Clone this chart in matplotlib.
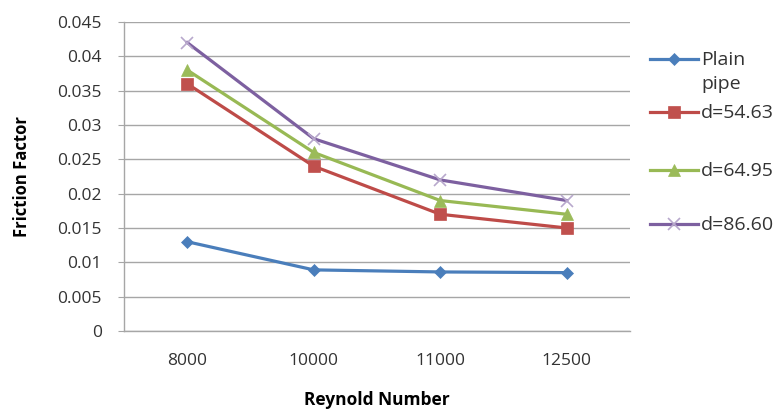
import matplotlib
matplotlib.use("Agg")
import matplotlib.pyplot as plt
from matplotlib.lines import Line2D

categories = ["8000", "10000", "11000", "12500"]
plain_pipe = [0.013, 0.0089, 0.0086, 0.0085]
d_54_63 = [0.036, 0.024, 0.017, 0.015]
d_64_95 = [0.038, 0.026, 0.019, 0.017]
d_86_60 = [0.042, 0.028, 0.022, 0.019]
y_ticks = [0, 0.005, 0.01, 0.015, 0.02, 0.025, 0.03, 0.035, 0.04, 0.045]
y_tick_labels = ["0", "0.005", "0.01", "0.015", "0.02", "0.025", "0.03", "0.035", "0.04", "0.045"]

plt.rcParams['font.family'] = ['Open Sans', 'DejaVu Sans']

fig = plt.figure(figsize=(7.79, 4.12), dpi=100)
ax = fig.add_axes([124/779, 81/412, 506/779, 309/412])

x = list(range(len(categories)))
series = [
    ("Plain\npipe", plain_pipe, "#4A7EBB", "D", 6, "#4A7EBB"),
    ("d=54.63", d_54_63, "#BE4B48", "s", 8, "#C0504D"),
    ("d=64.95", d_64_95, "#98B954", "^", 8.5, "#9BBB59"),
    ("d=86.60", d_86_60, "#7D60A0", "x", 9, "#B8A8CC"),
]
for label, vals, col, mk, ms, mcol in series:
    ax.plot(x, vals, color=col, lw=2.3, marker=mk, markersize=ms,
            markerfacecolor=mcol, markeredgecolor=mcol, markeredgewidth=1.2 if mk == "x" else 0.5,
            zorder=3)

ax.set_xlim(-0.5, len(categories) - 0.5)
ax.set_ylim(0, 0.045)
ax.set_yticks(y_ticks)
ax.set_yticklabels(y_tick_labels)
ax.set_xticks(x)
ax.set_xticklabels(categories)
ax.yaxis.grid(True, color="#A6A6A6", lw=1.0)
ax.set_axisbelow(True)
for s in ["top", "right"]:
    ax.spines[s].set_visible(False)
ax.spines["left"].set_color("#A6A6A6")
ax.spines["bottom"].set_color("#A6A6A6")
ax.spines["left"].set_linewidth(1.0)
ax.spines["bottom"].set_linewidth(1.0)
ax.tick_params(axis="y", length=4, color="#A6A6A6", labelsize=12.5, labelcolor="#333333", pad=12)
ax.tick_params(axis="x", length=0, labelsize=12.5, labelcolor="#333333", pad=16)

ax.set_xlabel("Reynold Number", fontsize=12.5, fontweight="bold", labelpad=16)
ax.set_ylabel("Friction Factor", fontsize=12, fontweight="bold")
ax.yaxis.set_label_coords(-(124 - 31) / 506, 0.5)

# legend, drawn manually
leg_y = [59, 112, 170, 224]
for (label, vals, col, mk, ms, mcol), yy in zip(series, leg_y):
    yf = 1 - yy / 412
    fig.add_artist(Line2D([650/779, 698/779], [yf, yf], transform=fig.transFigure,
                          color=col, lw=2.3))
    fig.add_artist(Line2D([674/779], [yf], transform=fig.transFigure, marker=mk,
                          markersize=ms, markerfacecolor=mcol, markeredgecolor=mcol,
                          markeredgewidth=1.2 if mk == "x" else 0.5, lw=0))
    fig.text(701/779, yf + 8/412, label, fontsize=14, color="#333333",
             va="top", ha="left", linespacing=1.45)

fig.savefig("out.png", dpi=100)
